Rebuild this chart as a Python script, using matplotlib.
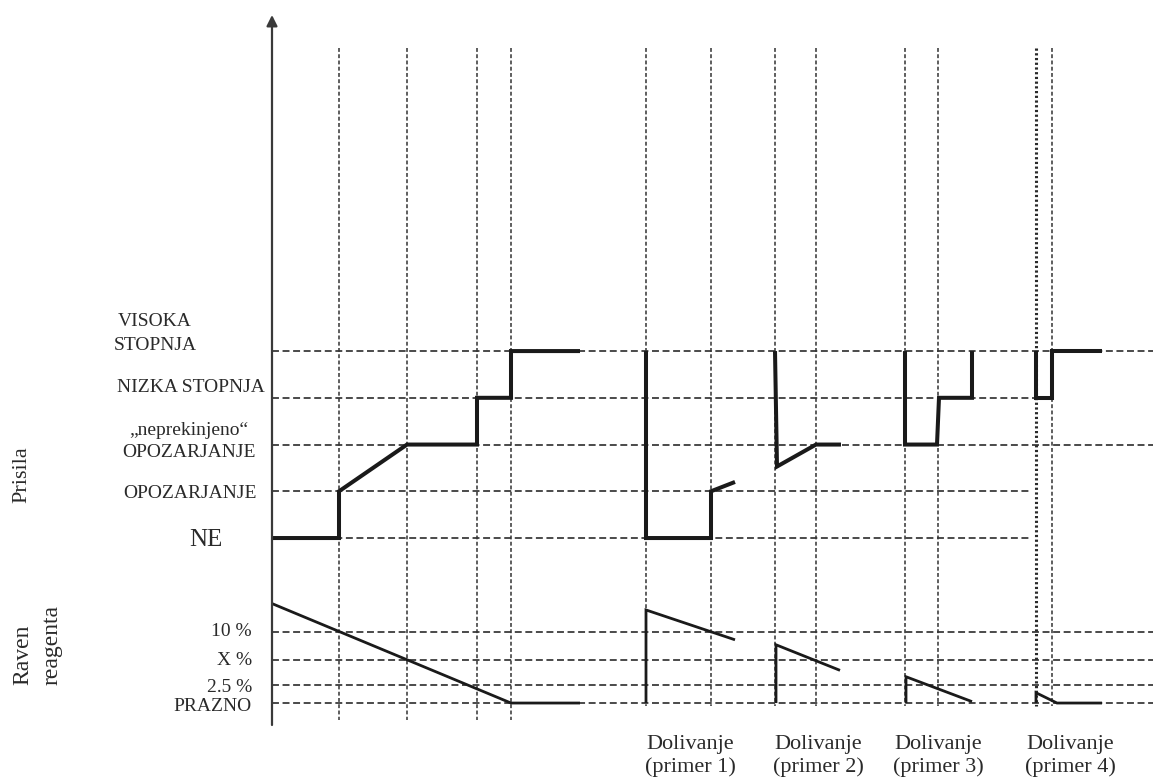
import numpy as np
import matplotlib.pyplot as plt

plt.rcParams.update({
    "font.family": ["Liberation Serif", "DejaVu Serif"],
    "lines.scale_dashes": False,
})

# ==============================
# data (time in arbitrary units, Prisila in level index, reagent in %)
# ==============================
level_names = ["NE", "OPOZARJANJE", "„neprekinjeno“\nOPOZARJANJE", "NIZKA STOPNJA", "VISOKA\nSTOPNJA"]
level_values = [0, 1, 2, 3, 4]
level_line_end = [75.8, 75.8, 88.1, 78.0, 88.1]

reagent_names = ["10 %", "X %", "2.5 %", "PRAZNO"]
reagent_pct = [10, 6, 2.5, 0]

# event times (vertical guide lines)
left_events = [6.7, 13.5, 20.5, 23.9]
right_events = [37.4, 43.9, 50.3, 54.4, 63.3, 66.6, 78.0]
dotted_event = 76.4

# Prisila – main run
prisila_t = [0, 6.7, 6.7, 13.5, 20.5, 20.5, 23.9, 23.9, 30.8]
prisila_l = [0, 0, 1, 2, 2, 3, 3, 4, 4]
# Prisila – refill examples
case_prisila_t = [
    [37.4, 37.4, 43.9, 43.9, 46.3],
    [50.3, 50.5, 54.4, 56.9],
    [63.3, 63.3, 66.5, 66.7, 70.0, 70.0],
    [76.4, 76.4, 78.0, 78.0, 83.0],
]
case_prisila_l = [
    [4, 0, 0, 1, 1.2],
    [4, 1.53, 2, 2],
    [4, 2, 2, 3, 3, 4],
    [4, 3, 3, 4, 4],
]

# reagent – main run
reagent_t = [0, 23.9, 30.8]
reagent_p = [14, 0, 0]
# reagent – refill examples
case_reagent_t = [
    [37.4, 37.4, 46.3],
    [50.4, 50.4, 56.8],
    [63.4, 63.4, 70.0],
    [76.4, 76.4, 78.5, 83.0],
]
case_reagent_p = [
    [0, 13.1, 8.9],
    [0, 8.2, 4.6],
    [0, 3.7, 0.2],
    [0, 1.45, 0, 0],
]
case_labels = ["Dolivanje\n(primer 1)", "Dolivanje\n(primer 2)",
               "Dolivanje\n(primer 3)", "Dolivanje\n(primer 4)"]
case_label_t = [41.8, 54.6, 66.6, 79.8]

# reagent % -> vertical position below the Prisila levels
R_BASE, R_SCALE = -3.53, 0.152


def ry(p):
    return R_BASE + np.asarray(p, dtype=float) * R_SCALE


# ==============================
# figure
# ==============================
W, H = 1153, 778
fig = plt.figure(figsize=(W / 100, H / 100), dpi=100)
ax = fig.add_axes([272 / W, 1 - 725 / H, (W - 272) / W, 710 / H])
ax.set_xlim(0, 88.1)
ax.set_ylim(-4.0, 11.19)
ax.axis("off")

ink = "#1a1a1a"
grid_kw = dict(color="#333333", lw=1.25, linestyle=(0, (5, 2.6)))

# y axis with arrow
ax.annotate("", xy=(0, 11.19), xytext=(0, -4.0),
            arrowprops=dict(arrowstyle="-|>", color="#3a3a3a", lw=1.6,
                            mutation_scale=16, shrinkA=0, shrinkB=0),
            annotation_clip=False)

# horizontal guide lines
for v, end in zip(level_values, level_line_end):
    ax.plot([0, end], [v, v], **grid_kw)
for p in reagent_pct:
    ax.plot([0, 88.1], [ry(p), ry(p)], **grid_kw)

# vertical guide lines
vdash = dict(color="#333333", lw=1.1, linestyle=(0, (2.8, 1.7)))
for t in left_events:
    ax.plot([t, t], [10.48, -3.89], **vdash)
for t in right_events:
    ax.plot([t, t], [10.48, -3.6], **vdash)
ax.plot([dotted_event, dotted_event], [10.48, -3.6], color="#2a2a2a",
        lw=2.2, linestyle=(0, (1.6, 1.8)))

# Prisila lines
thick = dict(color=ink, lw=2.9, solid_joinstyle="miter", solid_capstyle="butt")
ax.plot(prisila_t, prisila_l, **thick)
for t, l in zip(case_prisila_t, case_prisila_l):
    ax.plot(t, l, **thick)

# reagent lines
thin = dict(color=ink, lw=2.0, solid_joinstyle="miter", solid_capstyle="butt")
ax.plot(reagent_t, ry(reagent_p), **thin)
for t, p in zip(case_reagent_t, case_reagent_p):
    ax.plot(t, ry(p), **thin)

# ==============================
# labels
# ==============================
tc = "#2a2a2a"
lab_x = [-6.6, -8.2, -8.3, -8.1, -11.7]
lab_y = [-0.04, 0.96, 2.06, 3.23, 4.38]
lab_fs = [18, 14, 14, 14, 14]
lab_ls = [1.0, 1.0, 1.35, 1.0, 1.55]
for name, x, y, fs, ls in zip(level_names, lab_x, lab_y, lab_fs, lab_ls):
    ax.text(x, y, name, ha="center", va="center", fontsize=fs, color=tc,
            linespacing=ls, clip_on=False)

reagent_lab_dy = [0, 0, -0.05, -0.07]
for name, p, dy in zip(reagent_names, reagent_pct, reagent_lab_dy):
    ax.text(-2.0, ry(p) + dy, name, ha="right", va="center", fontsize=14,
            color=tc, clip_on=False)

ax.text(-25.0, 1.35, "Prisila", rotation=90, ha="center", va="center",
        fontsize=16, color=tc, clip_on=False)
ax.text(-23.45, -3.14, "Raven\nreagenta", rotation=90, ha="center",
        va="bottom", multialignment="left", fontsize=17, color=tc,
        linespacing=1.55, clip_on=False)

for name, t in zip(case_labels, case_label_t):
    ax.text(t, -4.66, name, ha="center", va="center", fontsize=16,
            color=tc, linespacing=1.25, clip_on=False)

fig.savefig("out.png", dpi=100)
